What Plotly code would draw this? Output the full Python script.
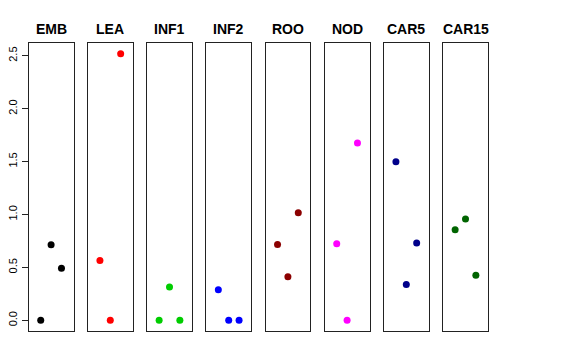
import plotly.graph_objects as go

panels = ["EMB", "LEA", "INF1", "INF2", "ROO", "NOD", "CAR5", "CAR15"]
colors = ["#000000", "#FF0000", "#00CD00", "#0000FF", "#8B0000", "#FF00FF", "#00008B", "#006400"]
x_pos = [1, 2, 3]
values = {
    "EMB": [0.0, 0.714, 0.493],
    "LEA": [0.565, 0.0, 2.52],
    "INF1": [0.0, 0.314, 0.0],
    "INF2": [0.288, 0.0, 0.0],
    "ROO": [0.717, 0.411, 1.016],
    "NOD": [0.723, 0.0, 1.675],
    "CAR5": [1.498, 0.338, 0.73],
    "CAR15": [0.855, 0.957, 0.427],
}
y_ticks = [0.0, 0.5, 1.0, 1.5, 2.0, 2.5]

# page body has an 8px margin; the figure is drawn from (8, 8)
OFF = 8
W, H = 576 - OFF, 360 - OFF
left0, step, pw = 28.7 - OFF, 59.2, 44.8
top_px, bot_px = 43 - OFF, 331 - OFF
ydom = [1 - bot_px / H, 1 - top_px / H]

fig = go.Figure()
layout = dict(
    width=W, height=H, margin=dict(l=0, r=0, t=0, b=0),
    paper_bgcolor="white", plot_bgcolor="white", showlegend=False,
    font=dict(family="Liberation Sans, Arial, sans-serif", color="black"),
)
annotations = []
for i, name in enumerate(panels):
    n = "" if i == 0 else str(i + 1)
    fig.add_trace(go.Scatter(
        x=x_pos, y=values[name], mode="markers",
        marker=dict(color=colors[i], size=7, line=dict(width=0)),
        xaxis="x" + n, yaxis="y" + n, cliponaxis=False,
    ))
    l = left0 + i * step
    layout["xaxis" + n] = dict(
        domain=[l / W, (l + pw) / W], range=[-0.16, 4.16], anchor="y" + n,
        showgrid=False, zeroline=False, showticklabels=False, ticks="",
        showline=True, mirror=True, linecolor="#222222", linewidth=1,
        automargin=False,
    )
    yax = dict(
        domain=ydom, range=[-0.1008, 2.6208], anchor="x" + n,
        showgrid=False, zeroline=False, automargin=False,
        showline=True, mirror=True, linecolor="#222222", linewidth=1,
    )
    if i == 0:
        yax.update(tickvals=y_ticks, ticktext=[f"{v:.1f}" for v in y_ticks],
                   ticks="outside", ticklen=6, tickwidth=1, tickcolor="#222222",
                   tickangle=-90, tickfont=dict(size=11), showticklabels=True)
    else:
        yax.update(showticklabels=False, ticks="")
    layout["yaxis" + n] = yax
    annotations.append(dict(
        x=(l + pw / 2) / W, y=1 - (29 - OFF) / H, xref="paper", yref="paper",
        text="<b>" + name + "</b>", showarrow=False,
        font=dict(size=14, color="black"), xanchor="center", yanchor="middle",
    ))
layout["annotations"] = annotations
fig.update_layout(**layout)
fig.write_html("out.html")
